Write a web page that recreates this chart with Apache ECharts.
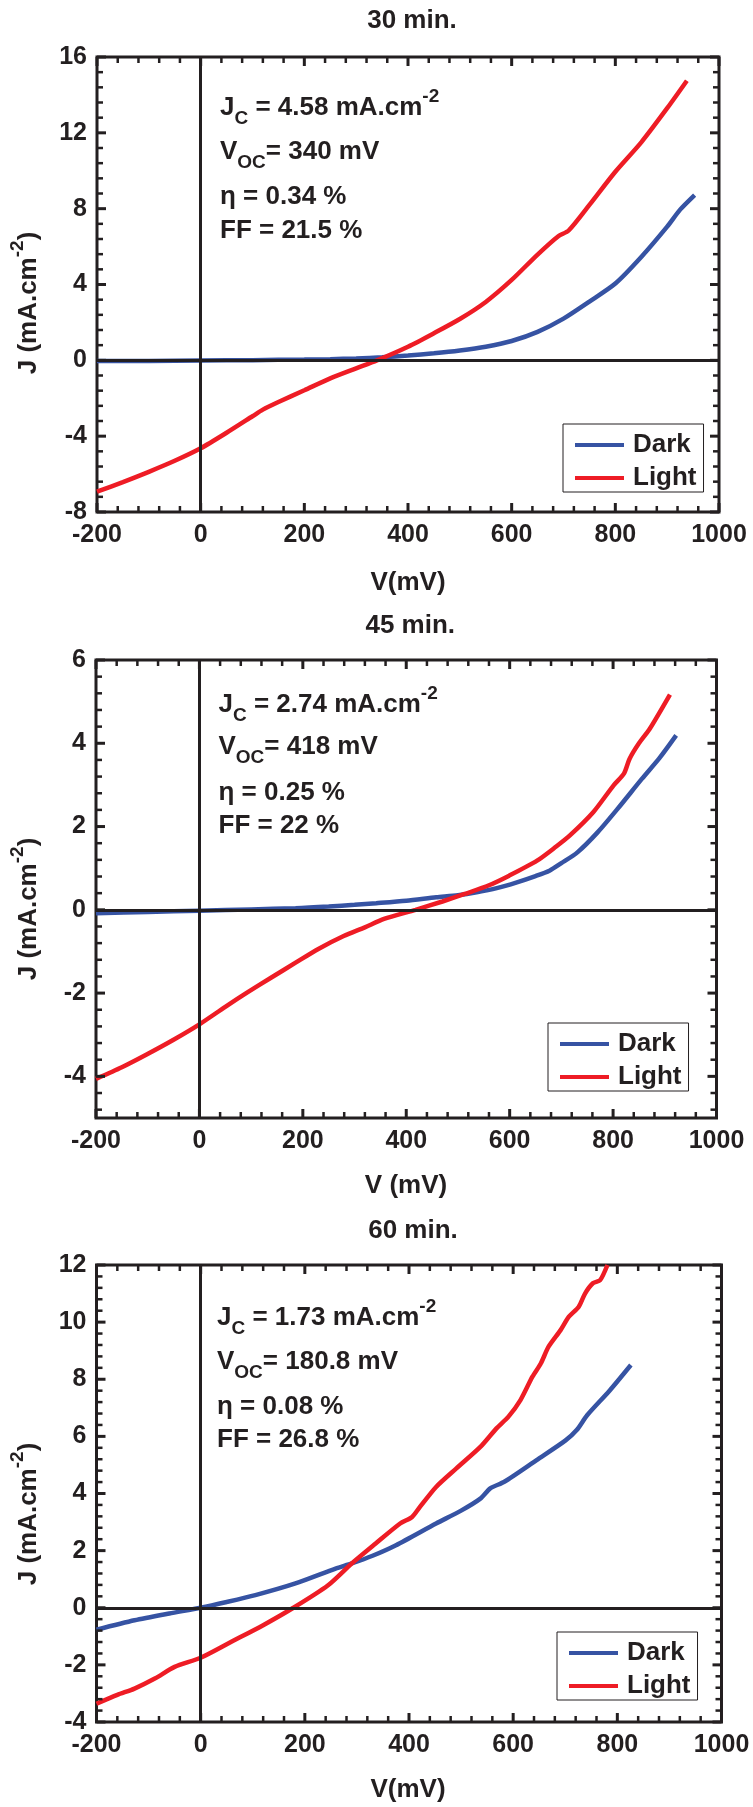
<!DOCTYPE html>
<html>
<head>
<meta charset="utf-8">
<script src="https://cdn.jsdelivr.net/npm/echarts@6/dist/echarts.min.js"></script>
<style>
  html, body { margin: 0; padding: 0; background: #ffffff; }
  #chart { width: 753px; height: 1807px; }
</style>
</head>
<body>
<div id="chart"></div>
<script>
// ---- data: J–V curves (V in mV, J in mA/cm^2) for three deposition times ----
const panelTitles = ['30 min.', '45 min.', '60 min.'];
const xAxisNames = ['V(mV)', 'V (mV)', 'V(mV)'];
const seriesNames = ['Dark', 'Light'];

const voltageRange = [-200, 1000];
const voltageTicks = [-200, 0, 200, 400, 600, 800, 1000];

const currentRange30 = [-8, 16];
const currentTicks30 = [-8, -4, 0, 4, 8, 12, 16];
const currentRange45 = [-5, 6];
const currentTicks45 = [-4, -2, 0, 2, 4, 6];
const currentRange60 = [-4, 12];
const currentTicks60 = [-4, -2, 0, 2, 4, 6, 8, 10, 12];

const dark30 = [[-200, -0.04], [-100, -0.03], [0, -0.01], [100, 0.01], [200, 0.04], [250, 0.06],
  [300, 0.1], [350, 0.16], [400, 0.25], [450, 0.37], [500, 0.52], [550, 0.72], [600, 1.02],
  [650, 1.5], [700, 2.2], [750, 3.1], [800, 4.05], [850, 5.45], [900, 7.05], [925, 7.95], [953, 8.72]];
const light30 = [[-200, -6.93], [-150, -6.42], [-100, -5.88], [-50, -5.3], [0, -4.64], [50, -3.82],
  [100, -2.95], [120, -2.6], [150, -2.2], [200, -1.58], [250, -0.95], [300, -0.42], [340, 0],
  [400, 0.72], [450, 1.43], [500, 2.18], [550, 3.08], [600, 4.24], [650, 5.58], [690, 6.55],
  [710, 6.85], [750, 8.2], [800, 9.95], [850, 11.5], [900, 13.3], [938, 14.75]];

const dark45 = [[-200, -0.08], [-100, -0.05], [0, -0.02], [100, 0.01], [186, 0.04], [250, 0.08],
  [300, 0.12], [342, 0.16], [400, 0.22], [458, 0.3], [500, 0.35], [536, 0.42], [575, 0.52],
  [614, 0.66], [650, 0.81], [677, 0.94], [700, 1.12], [731, 1.38], [770, 1.86], [809, 2.43],
  [856, 3.15], [890, 3.65], [922, 4.19]];
const light45 = [[-200, -4.06], [-150, -3.78], [-103, -3.48], [-50, -3.12], [0, -2.75], [50, -2.33],
  [92, -1.99], [140, -1.62], [186, -1.27], [230, -0.94], [279, -0.63], [320, -0.42], [357, -0.22],
  [418, 0], [470, 0.2], [513, 0.38], [560, 0.59], [599, 0.82], [653, 1.18], [690, 1.52],
  [716, 1.78], [762, 2.35], [801, 2.99], [821, 3.27], [832, 3.63], [850, 4.0], [871, 4.35], [910, 5.17]];

const dark60 = [[-200, -0.77], [-127, -0.44], [-60, -0.2], [0, 0], [50, 0.2], [105, 0.44],
  [182, 0.85], [259, 1.37], [290, 1.55], [330, 1.82], [375, 2.19], [452, 2.95], [500, 3.4],
  [537, 3.82], [556, 4.18], [583, 4.41], [645, 5.17], [700, 5.85], [722, 6.22], [742, 6.74],
  [785, 7.6], [826, 8.5]];
const light60 = [[-200, -3.36], [-160, -3.05], [-127, -2.83], [-88, -2.48], [-50, -2.07], [0, -1.75],
  [58, -1.2], [120, -0.61], [178, 0], [244, 0.78], [290, 1.55], [336, 2.25], [383, 2.95],
  [406, 3.18], [421, 3.53], [452, 4.23], [491, 4.88], [537, 5.63], [568, 6.28], [591, 6.69],
  [614, 7.27], [637, 8.09], [653, 8.55], [668, 9.14], [691, 9.72], [707, 10.19], [726, 10.54],
  [738, 11.0], [753, 11.36], [767, 11.47], [781, 12.0]];

// cell parameters printed inside each panel
const jcValues = ['4.58', '2.74', '1.73'];
const vocValues = ['340', '418', '180.8'];
const etaValues = ['0.34', '0.25', '0.08'];
const ffValues = ['21.5', '22', '26.8'];

// ---- styling / layout ----
const INK = '#231f20';
const BLUE = '#3653a3';
const RED = '#ee1c25';
const FAMILY = '"Liberation Sans", Arial, Helvetica, sans-serif';
const MAIN = 26, SMALL = 19;
const MAJOR_LEN = 9, MINOR_LEN = 6;

const panels = [
  { grid: { left: 97, top: 57, width: 622, height: 455 }, yRange: currentRange30, yTicks: currentTicks30,
    dark: dark30, light: light30, titleY: 21, nameY: 583, nameX: 408, yNameY: 303,
    textX: 220, baselines: [116, 160, 205, 239], legend: { left: 563, top: 424 } },
  { grid: { left: 96, top: 660, width: 620.5, height: 458 }, yRange: currentRange45, yTicks: currentTicks45,
    dark: dark45, light: light45, titleY: 626, nameY: 1186, nameX: 406, yNameY: 909,
    textX: 218.5, baselines: [713, 755, 801, 834], legend: { left: 548, top: 1023 } },
  { grid: { left: 96.5, top: 1265, width: 625, height: 457 }, yRange: currentRange60, yTicks: currentTicks60,
    dark: dark60, light: light60, titleY: 1231, nameY: 1790, nameX: 408, yNameY: 1514,
    textX: 217, baselines: [1326, 1370, 1415, 1448], legend: { left: 557, top: 1632 } }
];

// minor tick positions: five sub-intervals between neighbouring major ticks
function minorValues(majors, range) {
  const step = (majors[1] - majors[0]) / 5;
  const out = [];
  const start = majors[0] - Math.floor((majors[0] - range[0]) / step + 1e-9) * step;
  for (let v = start; v <= range[1] + 1e-9; v += step) {
    const r = Math.round(v * 1e6) / 1e6;
    const isMajor = majors.some(m => Math.abs(m - r) < 1e-6);
    if (!isMajor && r > range[0] + 1e-9 && r < range[1] - 1e-9) out.push(r);
  }
  return out;
}

function fontStr(size) { return 'bold ' + size + 'px ' + FAMILY; }
const measureCtx = document.createElement('canvas').getContext('2d');
function textWidth(t, size) { measureCtx.font = fontStr(size); return measureCtx.measureText(t).width; }

// text pieces (normal / subscript / superscript) laid out left to right on one baseline
function textRun(parts, x0, baseline) {
  const els = [];
  let x = x0;
  parts.forEach(([t, role]) => {
    const size = role === 'n' ? MAIN : SMALL;
    const dy = role === 'sub' ? 9 : role === 'sup' ? -13 : 0;
    els.push({
      type: 'text', x: x, y: baseline + dy - 0.33 * size, silent: true, z: 20,
      style: { text: t, font: fontStr(size), fill: INK, textAlign: 'left', textVerticalAlign: 'middle',
               align: 'left', verticalAlign: 'middle' }
    });
    x += textWidth(t, size);
  });
  return els;
}

function centeredText(t, x, y, size) {
  return {
    type: 'text', x: x, y: y, silent: true, z: 20,
    style: { text: t, font: fontStr(size), fill: INK, textAlign: 'center', textVerticalAlign: 'middle',
             align: 'center', verticalAlign: 'middle' }
  };
}

// rotated "J (mA.cm^-2)" axis name
function yAxisName(cx, cy) {
  const parts = [['J (mA.cm', 'n'], ['-2', 'sup'], [')', 'n']];
  const total = parts.reduce((s, [t, r]) => s + textWidth(t, r === 'n' ? MAIN : SMALL), 0);
  const children = [];
  let x = -total / 2;
  parts.forEach(([t, role]) => {
    const size = role === 'n' ? MAIN : SMALL;
    const dy = role === 'sup' ? -11 : 0;
    children.push({
      type: 'text', x: x, y: dy, silent: true,
      style: { text: t, font: fontStr(size), fill: INK, textAlign: 'left', textVerticalAlign: 'middle',
               align: 'left', verticalAlign: 'middle' }
    });
    x += textWidth(t, size);
  });
  return { type: 'group', x: cx, y: cy, rotation: Math.PI / 2, z: 20, children: children };
}

const grids = [], xAxes = [], yAxes = [], series = [], legends = [], graphics = [];

function labelAxis(kind, i, range, values, position) {
  return {
    type: 'value', gridIndex: i, min: range[0], max: range[1], position: position,
    axisLine: { show: false, onZero: false }, splitLine: { show: false },
    axisTick: { show: false },
    axisLabel: { show: true, customValues: values, margin: kind === 'x' ? 11 : 10,
                 formatter: v => String(v),
                 fontSize: 25, fontWeight: 'bold', fontFamily: FAMILY, color: INK }
  };
}

panels.forEach((p, i) => {
  grids.push(Object.assign({ show: true, borderColor: INK, borderWidth: 3, backgroundColor: 'transparent',
                             containLabel: false, outerBoundsMode: 'none' }, p.grid));

  const xi = xAxes.length, yi = yAxes.length;
  xAxes.push(labelAxis('x', i, voltageRange, voltageTicks, 'bottom'));
  yAxes.push(labelAxis('y', i, p.yRange, p.yTicks, 'left'));

  // V = 0 and J = 0 reference lines, under the curves
  series.push({
    type: 'line', name: 'zero' + i, xAxisIndex: xi, yAxisIndex: yi, data: [], z: 1, silent: true,
    markLine: { silent: true, symbol: ['none', 'none'], label: { show: false }, animation: false,
                lineStyle: { color: INK, width: 3, type: 'solid' },
                emphasis: { disabled: true },
                data: [{ xAxis: 0 }, { yAxis: 0 }] }
  });
  [[seriesNames[0], p.dark, BLUE], [seriesNames[1], p.light, RED]].forEach(([name, data, color]) => {
    series.push({
      type: 'line', name: name, xAxisIndex: xi, yAxisIndex: yi, data: data, z: 3,
      showSymbol: false, symbol: 'none', smooth: 0.25, clip: true,
      lineStyle: { color: color, width: 4.5 }, itemStyle: { color: color },
      emphasis: { disabled: true }
    });
  });

  legends.push({
    left: p.legend.left, top: p.legend.top, orient: 'vertical', data: seriesNames,
    icon: 'rect', itemWidth: 49, itemHeight: 4, itemGap: 7, padding: [8, 7, 1, 12],
    borderColor: INK, borderWidth: 1, backgroundColor: '#ffffff', selectedMode: false,
    textStyle: { fontSize: MAIN, fontWeight: 'bold', fontFamily: FAMILY, color: INK,
                 lineHeight: 26, padding: [0, 0, 0, 4] }
  });

  const cx = p.grid.left + p.grid.width / 2;
  graphics.push(centeredText(panelTitles[i], cx + 4, p.titleY, MAIN));
  graphics.push(centeredText(xAxisNames[i], p.nameX, p.nameY, MAIN));
  graphics.push(yAxisName(29, p.yNameY));

  const lines = [
    [['J', 'n'], ['C', 'sub'], [' = ' + jcValues[i] + ' mA.cm', 'n'], ['-2', 'sup']],
    [['V', 'n'], ['OC', 'sub'], ['= ' + vocValues[i] + ' mV', 'n']],
    [['\u03b7 = ' + etaValues[i] + ' %', 'n']],
    [['FF = ' + ffValues[i] + ' %', 'n']]
  ];
  lines.forEach((parts, k) => { textRun(parts, p.textX, p.baselines[k]).forEach(e => graphics.push(e)); });
});

const chart = echarts.init(document.getElementById('chart'), null, { renderer: 'canvas' });
chart.setOption({
  animation: false,
  backgroundColor: '#ffffff',
  grid: grids,
  xAxis: xAxes,
  yAxis: yAxes,
  legend: legends,
  series: series
});

// pixel position of a (V, J) pair in panel i; uses the panel's axis scales and
// falls back to the same linear mapping over the grid box if the lookup is unusable
function toPixel(i, pair) {
  const p = panels[i], g = p.grid;
  const lin = [g.left + (pair[0] - voltageRange[0]) / (voltageRange[1] - voltageRange[0]) * g.width,
               g.top + (p.yRange[1] - pair[1]) / (p.yRange[1] - p.yRange[0]) * g.height];
  let pt = null;
  try { pt = chart.convertToPixel({ xAxisIndex: i, yAxisIndex: i }, pair); } catch (e) { pt = null; }
  const ok = pt && isFinite(pt[0]) && isFinite(pt[1]) &&
             Math.abs(pt[0] - lin[0]) < 3 && Math.abs(pt[1] - lin[1]) < 3;
  return ok ? pt : lin;
}

// inward tick marks on all four frame edges, drawn as small filled bars
function tickBar(x, y, w, h) {
  return { type: 'rect', silent: true, z: 15, shape: { x: x, y: y, width: w, height: h },
           style: { fill: INK } };
}
panels.forEach((p, i) => {
  const xMinor = minorValues(voltageTicks, voltageRange);
  const yMinor = minorValues(p.yTicks, p.yRange);
  [[voltageTicks, true], [xMinor, false]].forEach(([vals, major]) => {
    const len = major ? MAJOR_LEN : MINOR_LEN, w = major ? 3 : 2.5;
    vals.forEach(v => {
      const b = toPixel(i, [v, p.yRange[0]]), t = toPixel(i, [v, p.yRange[1]]);
      graphics.push(tickBar(b[0] - w / 2, b[1] - len, w, len));
      graphics.push(tickBar(t[0] - w / 2, t[1], w, len));
    });
  });
  [[p.yTicks, true], [yMinor, false]].forEach(([vals, major]) => {
    const len = major ? MAJOR_LEN : MINOR_LEN, w = major ? 3 : 2.5;
    vals.forEach(v => {
      const l = toPixel(i, [voltageRange[0], v]), r = toPixel(i, [voltageRange[1], v]);
      graphics.push(tickBar(l[0], l[1] - w / 2, len, w));
      graphics.push(tickBar(r[0] - len, r[1] - w / 2, len, w));
    });
  });
});

chart.setOption({ graphic: { elements: graphics } });
</script>
</body>
</html>
